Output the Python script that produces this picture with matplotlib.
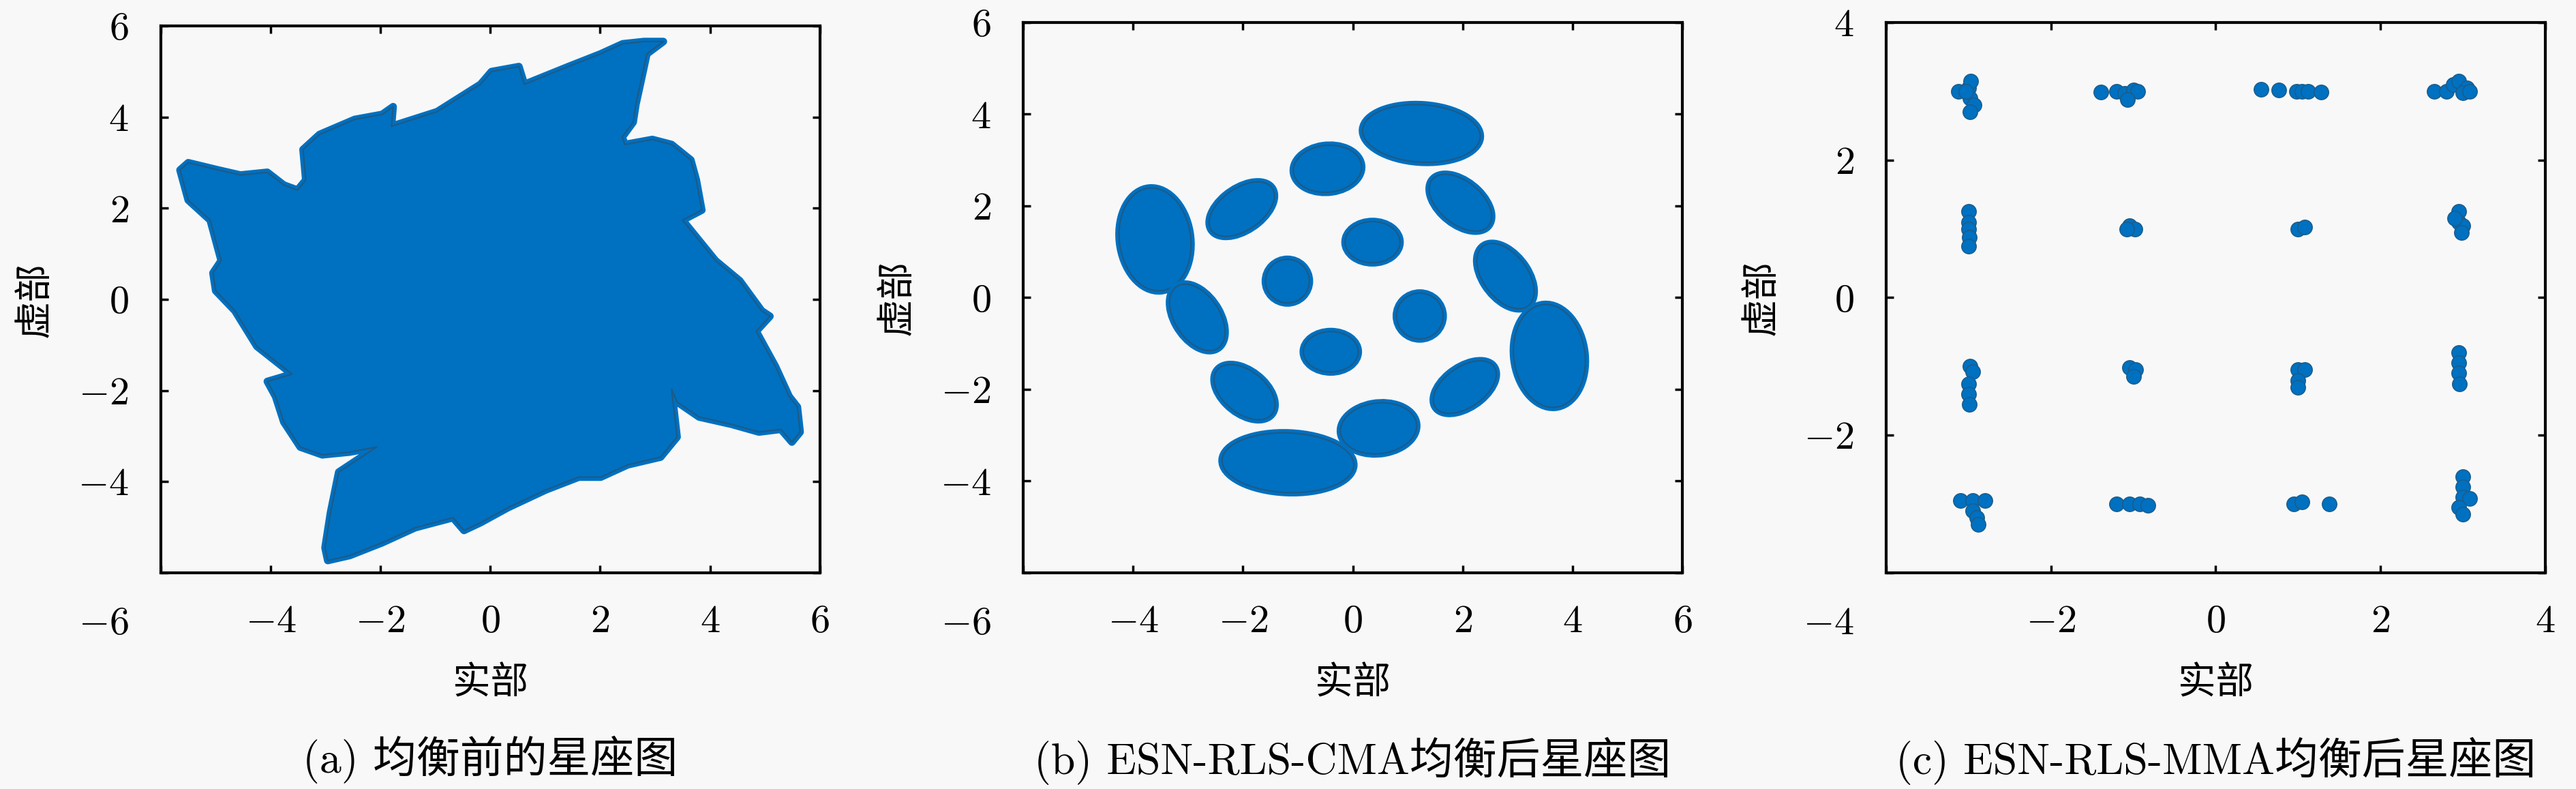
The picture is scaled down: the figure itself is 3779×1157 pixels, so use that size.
import matplotlib
matplotlib.use('Agg')
import matplotlib.pyplot as plt
from matplotlib.patches import Ellipse
from matplotlib.transforms import offset_copy

plt.rcParams['font.family'] = ['cmr10', 'Noto Sans CJK SC']
plt.rcParams['mathtext.fontset'] = 'cm'
plt.rcParams['axes.unicode_minus'] = False

# (a) 均衡前: 星座点云外轮廓 (实部, 虚部)
a_x = [-5.65, -5.5, -4.95, -4.55, -4.06, -3.76, -3.51, -3.36, -3.41, -3.11, -2.47, -1.97,
       -1.77, -1.8, -0.97, -0.18, 0.02, 0.52, 0.62, 1.42, 2.01, 2.41, 2.8, 3.15, 2.85,
       2.75, 2.65, 2.6, 2.4, 2.45, 2.95, 3.3, 3.65, 3.75, 3.85, 3.5, 4.1, 4.54, 4.94,
       5.09, 4.84, 5.19, 5.44, 5.59, 5.64, 5.49, 5.29, 4.89, 4.39, 3.8, 3.4, 3.3, 3.4,
       3.1, 2.5, 2.01, 1.61, 1.01, 0.32, -0.18, -0.48, -0.68, -1.37, -1.97, -2.56,
       -2.96, -3.01, -2.91, -2.76, -2.56, -2.07, -2.56, -3.06, -3.46, -3.76, -3.91,
       -4.06, -3.61, -4.25, -4.65, -5.0, -5.05, -4.9, -5.1, -5.5, -5.6]
a_y = [2.84, 3.0, 2.84, 2.73, 2.79, 2.51, 2.4, 2.62, 3.29, 3.62, 3.95, 4.06,
       4.23, 3.8, 4.12, 4.72, 5.0, 5.11, 4.72, 5.11, 5.39, 5.61, 5.66, 5.66, 5.39,
       4.83, 4.28, 3.89, 3.56, 3.4, 3.51, 3.4, 3.06, 2.62, 1.96, 1.74, 0.85, 0.41, -0.25,
       -0.37, -0.7, -1.47, -2.13, -2.36, -2.91, -3.13, -2.85, -2.91, -2.74, -2.58, -2.25,
       -1.97, -3.02, -3.46, -3.63, -3.9, -3.9, -4.18, -4.57, -4.9, -5.07, -4.79, -5.01,
       -5.34, -5.62, -5.73, -5.45, -4.68, -3.79, -3.63, -3.24, -3.35, -3.41, -3.24,
       -2.69, -2.13, -1.8, -1.64, -1.03, -0.25, 0.19, 0.58, 0.85, 1.74, 2.18, 2.62]

# (b) ESN-RLS-CMA: 16 个簇 (中心, 宽, 高, 倾角)
b_x = [-3.6, -2.02, -0.46, 1.25, 1.96, 2.78, 3.58, 2.04, 0.47, -1.18, -1.97, -2.83,
       -1.19, 0.36, 1.22, -0.4]
b_y = [1.27, 1.93, 2.81, 3.58, 2.07, 0.47, -1.27, -1.95, -2.85, -3.6, -2.06, -0.43,
       0.36, 1.21, -0.4, -1.18]
b_w = [1.3, 1.45, 1.25, 2.15, 1.45, 1.55, 1.3, 1.4, 1.4, 2.4, 1.4, 1.55, 0.8, 1.0, 0.85, 1.0]
b_h = [2.25, 0.85, 1.02, 1.25, 0.85, 0.85, 2.25, 0.82, 1.1, 1.3, 0.85, 0.85, 0.95, 0.9, 1.0, 0.88]
b_ang = [5, 45, 10, -5, -50, -62, 5, 45, 12, -3, -50, -65, 0, 0, 0, 0]

# (c) ESN-RLS-MMA: 各簇中读出的点
c_x = [-3.0, -2.97, -3.12, -2.98, -2.93, -2.98, -3.03,
       -1.39, -1.2, -1.1, -1.0, -0.95, -1.07,
       0.55, 0.77, 0.98, 1.05, 1.12, 1.28,
       2.65, 2.8, 2.88, 2.95, 3.05, 3.0, 3.08,
       -3.0, -3.0, -3.0, -2.99, -3.0,
       -1.05, -0.98, -1.08,
       1.0, 1.08,
       2.95, 2.95, 3.0, 2.98, 2.9,
       -2.98, -2.95, -3.0, -3.0, -2.99,
       -1.05, -0.97, -1.0,
       1.0, 1.08, 1.0, 1.0,
       2.95, 2.95, 2.95, 2.96,
       -3.1, -2.95, -2.8, -2.95, -2.9, -2.88,
       -1.2, -1.05, -0.92, -0.82,
       0.95, 1.05, 1.38,
       3.0, 3.0, 3.0, 3.08, 2.95, 3.0]
c_y = [3.05, 3.15, 3.0, 2.9, 2.8, 2.7, 3.0,
       2.99, 3.0, 2.97, 3.02, 3.0, 2.88,
       3.03, 3.02, 3.0, 3.0, 3.0, 2.99,
       3.0, 3.0, 3.1, 3.15, 3.05, 2.98, 3.0,
       1.25, 1.1, 1.0, 0.88, 0.75,
       1.05, 1.0, 1.0,
       1.0, 1.03,
       1.25, 1.1, 1.05, 0.95, 1.15,
       -1.0, -1.08, -1.25, -1.4, -1.55,
       -1.02, -1.05, -1.15,
       -1.05, -1.05, -1.2, -1.3,
       -0.8, -0.95, -1.1, -1.25,
       -2.95, -2.95, -2.95, -3.1, -3.2, -3.3,
       -3.0, -3.0, -3.0, -3.02,
       -3.0, -2.97, -3.0,
       -2.6, -2.75, -2.9, -2.92, -3.05, -3.15]

captions = ['(a) 均衡前的星座图', '(b) ESN-RLS-CMA均衡后星座图', '(c) ESN-RLS-MMA均衡后星座图']
limits = [6, 6, 4]

blue = '#0070c0'
edge = '#1d5a86'
bg = '#f8f8f8'

fig = plt.figure(figsize=(37.8, 11.57), dpi=100, facecolor=bg)
positions = [[0.0624, 0.274, 0.2558, 0.693],
             [0.3971, 0.274, 0.2558, 0.6975],
             [0.7320, 0.274, 0.2558, 0.6975]]
axes = [fig.add_axes(p) for p in positions]

# (a) 外圈加粗圆角描边, 模拟散点的圆形边缘
axes[0].fill(a_x, a_y, facecolor=blue, edgecolor=blue, linewidth=8, joinstyle='round')
axes[0].fill(a_x, a_y, facecolor='none', edgecolor=edge, linewidth=1.5, joinstyle='round')

# (b)
for x, y, w, h, ang in zip(b_x, b_y, b_w, b_h, b_ang):
    axes[1].add_patch(Ellipse((x, y), w, h, angle=ang, facecolor=blue,
                              edgecolor=blue, linewidth=8))
    axes[1].add_patch(Ellipse((x, y), w, h, angle=ang, facecolor='none',
                              edgecolor=edge, linewidth=1.5))

# (c)
axes[2].scatter(c_x, c_y, s=240, c=blue, edgecolors=edge, linewidths=1.0)

for ax, lim, cap in zip(axes, limits, captions):
    ax.set_facecolor(bg)
    ax.set_xlim(-lim, lim)
    ax.set_ylim(-lim, lim)
    ticks = list(range(-lim, lim + 1, 2))
    labels = ['' if t == -lim else f'${t}$' for t in ticks]
    ax.set_xticks(ticks)
    ax.set_xticklabels(labels, fontsize=42)
    ax.set_yticks(ticks)
    ax.set_yticklabels(labels, fontsize=42)
    ax.tick_params(direction='in', length=8, width=2.5, top=True, right=True, pad=34)
    for s in ax.spines.values():
        s.set_linewidth(3)
    # 左下角的 -6 / -4
    tr = offset_copy(ax.transAxes, fig=fig, x=-34, y=-36, units='points')
    ax.text(0, 0, f'${-lim}$', transform=tr, ha='right', va='top', fontsize=42)
    ax.set_xlabel('实部', fontsize=40, labelpad=28)
    ax.set_ylabel('虚部', fontsize=40, labelpad=26)
    ax.text(0.5, -0.342, cap, transform=ax.transAxes, ha='center', va='center', fontsize=46)

plt.savefig('out.png', dpi=100, facecolor=bg)
